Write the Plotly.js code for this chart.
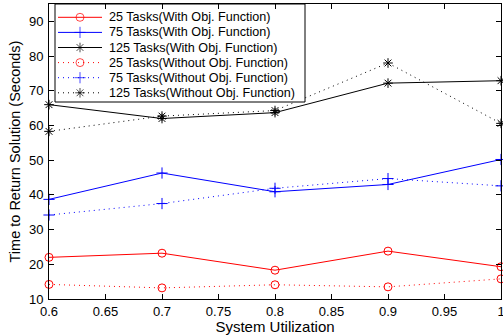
<!DOCTYPE html>
<html><head><meta charset="utf-8">
<script src="https://cdn.plot.ly/plotly-3.0.1.min.js"></script>
<style>html,body{margin:0;padding:0;background:#fff}</style>
</head><body>
<div id="chart" style="width:503px;height:335px"></div>
<script>
const utilization = [0.6, 0.7, 0.8, 0.9, 1.0];
const names = [
  "25 Tasks(With Obj. Function)",
  "75 Tasks(With Obj. Function)",
  "125 Tasks(With Obj. Function)",
  "25 Tasks(Without Obj. Function)",
  "75 Tasks(Without Obj. Function)",
  "125 Tasks(Without Obj. Function)"
];
const with25 = [22.0, 23.2, 18.3, 23.8, 19.3];
const with75 = [38.7, 46.3, 40.9, 43.0, 50.2];
const with125 = [66.0, 62.0, 63.7, 72.2, 72.9];
const without25 = [14.2, 13.2, 14.1, 13.5, 15.8];
const without75 = [34.2, 37.5, 41.9, 44.7, 42.6];
const without125 = [58.3, 62.7, 64.3, 78.0, 60.6];
const xTicks = [0.6, 0.65, 0.7, 0.75, 0.8, 0.85, 0.9, 0.95, 1];
const xTickText = ["0.6", "0.65", "0.7", "0.75", "0.8", "0.85", "0.9", "0.95", "1"];
const yTicks = [10, 20, 30, 40, 50, 60, 70, 80, 90];

const series = [with25, with75, with125, without25, without75, without125];
const colors = ["#ff0000", "#0000ff", "#000000", "#ff0000", "#0000ff", "#000000"];
const symbols = ["circle-open", "cross-thin-open", "asterisk-open", "circle-open", "cross-thin-open", "asterisk-open"];
const sizes = [8, 8, 8, 8, 8, 8];
const DOT = "1px,4px";
const dashes = ["solid", "solid", "solid", DOT, DOT, DOT];
const FONT = "Liberation Sans, Arial, sans-serif";

// plot-area geometry (px) used to place the hand-built legend
const W = 503, H = 335, ML = 49, MR = 2, MT = 4, MB = 36;
const PW = W - ML - MR, PH = H - MT - MB;
const px2x = p => (p - ML) / PW;
const px2y = p => (H - MB - p) / PH;
const LEG = {left: 55, right: 305, top: 4, bottom: 102, firstRow: 17.3, rowGap: 15.1,
             lineL: 58, lineR: 102, textL: 107};

const traces = series.map((y, i) => ({
  x: utilization, y: y, name: names[i], type: "scatter", mode: "lines+markers",
  cliponaxis: false, showlegend: false,
  line: {color: colors[i], width: 1, dash: dashes[i]},
  marker: {symbol: symbols[i], size: sizes[i], color: colors[i], line: {color: colors[i], width: 1}}
}));

// legend box (opaque, drawn on the overlay axes so it sits above the data)
const bx0 = px2x(LEG.left), bx1 = px2x(LEG.right), by0 = px2y(LEG.bottom), by1 = px2y(LEG.top);
traces.push({
  x: [bx0, bx1, bx1, bx0, bx0], y: [by0, by0, by1, by1, by0],
  xaxis: "x2", yaxis: "y2", type: "scatter", mode: "lines", fill: "toself",
  fillcolor: "#ffffff", line: {color: "#000", width: 1},
  showlegend: false, hoverinfo: "skip", cliponaxis: false
});
const annotations = [];
names.forEach((n, i) => {
  const yc = LEG.firstRow + i * LEG.rowGap;
  traces.push({
    x: [px2x(LEG.lineL), px2x((LEG.lineL + LEG.lineR) / 2), px2x(LEG.lineR)],
    y: [px2y(yc), px2y(yc), px2y(yc)],
    xaxis: "x2", yaxis: "y2", type: "scatter", mode: "lines+markers",
    showlegend: false, hoverinfo: "skip", cliponaxis: false,
    line: {color: colors[i], width: 1, dash: dashes[i]},
    marker: {symbol: symbols[i], size: [0, sizes[i], 0], color: colors[i],
             line: {color: colors[i], width: 1}}
  });
  annotations.push({
    xref: "paper", yref: "paper", x: px2x(LEG.textL), y: px2y(yc),
    xanchor: "left", yanchor: "middle", showarrow: false, text: n,
    font: {family: FONT, size: 12.6, color: "#000"}
  });
});

const axisCommon = {
  showline: true, linecolor: "#000", linewidth: 1, mirror: "ticks",
  ticks: "inside", ticklen: 5, tickcolor: "#000", showgrid: false, zeroline: false,
  ticklabeloverflow: "allow",
  tickfont: {family: FONT, size: 13, color: "#000"}
};

const layout = {
  width: W, height: H,
  margin: {l: ML, r: MR, t: MT, b: MB},
  paper_bgcolor: "#fff", plot_bgcolor: "#fff",
  showlegend: false,
  annotations: annotations,
  xaxis: Object.assign({}, axisCommon, {
    range: [0.6, 1], tickvals: xTicks, ticktext: xTickText, ticklabelstandoff: 0,
    title: {text: "System Utilization", standoff: 0,
      font: {family: FONT, size: 15, color: "#000"}}
  }),
  yaxis: Object.assign({}, axisCommon, {
    range: [10, 95], tickvals: yTicks, ticklabelstandoff: 2,
    title: {text: "Time to Return Solution (Seconds)", standoff: 4,
      font: {family: FONT, size: 14.5, color: "#000"}}
  }),
  xaxis2: {overlaying: "x", range: [0, 1], visible: false, fixedrange: true},
  yaxis2: {overlaying: "y", range: [0, 1], visible: false, fixedrange: true}
};

Plotly.newPlot("chart", traces, layout, {displayModeBar: false, staticPlot: true});
</script>
</body></html>
